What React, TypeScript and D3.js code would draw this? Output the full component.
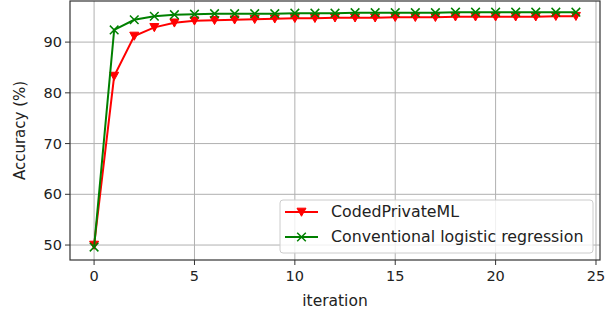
import React from "react";
import * as d3 from "d3";

// accuracy (%) per iteration
const iterations = d3.range(0, 25);
const codedPrivateML = [
  50.0, 83.3, 91.2, 92.9, 93.8, 94.2, 94.3, 94.4, 94.5, 94.6, 94.7, 94.7, 94.8,
  94.8, 94.8, 94.9, 94.9, 94.9, 95.0, 95.0, 95.0, 95.0, 95.0, 95.1, 95.1,
];
const conventionalLR = [
  49.6, 92.4, 94.4, 95.1, 95.4, 95.5, 95.6, 95.6, 95.6, 95.6, 95.7, 95.7, 95.7,
  95.8, 95.8, 95.8, 95.8, 95.8, 95.9, 95.9, 95.9, 95.9, 95.9, 95.9, 95.9,
];
const xTicks = [0, 5, 10, 15, 20, 25];
const yTicks = [50, 60, 70, 80, 90];
const seriesNames = ["CodedPrivateML", "Conventional logistic regression"];

const W = 611;
const H = 317;
const margin = { top: 1, right: 11, bottom: 57, left: 70 };
const FONT = "DejaVu Sans, sans-serif";

const triangle = (cx: number, cy: number, r: number) =>
  `M${cx - r},${cy - r * 0.85}L${cx + r},${cy - r * 0.85}L${cx},${cy + r * 0.95}Z`;
const cross = (cx: number, cy: number, r: number) =>
  `M${cx - r},${cy - r}L${cx + r},${cy + r}M${cx - r},${cy + r}L${cx + r},${cy - r}`;

export default function App() {
  const x = d3
    .scaleLinear()
    .domain([-1.2, 25.2])
    .range([margin.left, W - margin.right]);
  const y = d3
    .scaleLinear()
    .domain([47.05, 98.1])
    .range([H - margin.bottom, margin.top]);

  const red = "#ff0000";
  const green = "#008000";
  const line = d3
    .line<number>()
    .x((_, i) => x(iterations[i]))
    .y((d) => y(d));

  const x0 = margin.left;
  const x1 = W - margin.right;
  const y0 = H - margin.bottom;
  const y1 = margin.top;

  const lgX = 280;
  const lgY = 200;

  return (
    <svg
      width={W}
      height={H}
      style={{ position: "absolute", left: 0, top: 0, background: "#fff" }}
      fontFamily={FONT}
    >
      {/* grid */}
      {xTicks.map((t) => (
        <line key={"gx" + t} x1={x(t)} x2={x(t)} y1={y0} y2={y1} stroke="#b0b0b0" strokeWidth={1} />
      ))}
      {yTicks.map((t) => (
        <line key={"gy" + t} x1={x0} x2={x1} y1={y(t)} y2={y(t)} stroke="#b0b0b0" strokeWidth={1} />
      ))}

      {/* series */}
      <path d={line(codedPrivateML) || ""} fill="none" stroke={red} strokeWidth={2} />
      {codedPrivateML.map((v, i) => (
        <path key={"r" + i} d={triangle(x(iterations[i]), y(v), 4.5)} fill={red} stroke={red} strokeWidth={1} />
      ))}
      <path d={line(conventionalLR) || ""} fill="none" stroke={green} strokeWidth={2} />
      {conventionalLR.map((v, i) => (
        <path key={"g" + i} d={cross(x(iterations[i]), y(v), 4.3)} fill="none" stroke={green} strokeWidth={1.5} />
      ))}

      {/* spines */}
      <rect x={x0} y={y1} width={x1 - x0} height={y0 - y1} fill="none" stroke="#333" strokeWidth={1.2} />

      {/* x ticks */}
      {xTicks.map((t) => (
        <g key={"xt" + t}>
          <line x1={x(t)} x2={x(t)} y1={y0} y2={y0 + 5} stroke="#333" />
          <text x={x(t)} y={y0 + 21} textAnchor="middle" fontSize={14.5} fill="#222">
            {t}
          </text>
        </g>
      ))}
      {/* y ticks */}
      {yTicks.map((t) => (
        <g key={"yt" + t}>
          <line x1={x0 - 5} x2={x0} y1={y(t)} y2={y(t)} stroke="#333" />
          <text x={x0 - 8} y={y(t) + 5} textAnchor="end" fontSize={14.5} fill="#222">
            {t}
          </text>
        </g>
      ))}

      <text x={(x0 + x1) / 2} y={H - 11} textAnchor="middle" fontSize={15.5} fill="#222">
        iteration
      </text>
      <text
        transform={`translate(25,${(y0 + y1) / 2}) rotate(-90)`}
        textAnchor="middle"
        fontSize={15}
        fill="#222"
      >
        Accuracy (%)
      </text>

      {/* legend */}
      <rect x={lgX} y={lgY} width={313} height={53} rx={3} fill="#fff" fillOpacity={0.8} stroke="#ccc" />
      {seriesNames.map((name, i) => {
        const cy = lgY + 12 + i * 25;
        const c = i === 0 ? red : green;
        return (
          <g key={name}>
            <line x1={lgX + 5} x2={lgX + 38} y1={cy} y2={cy} stroke={c} strokeWidth={2} />
            {i === 0 ? (
              <path d={triangle(lgX + 21.5, cy, 4.5)} fill={c} stroke={c} />
            ) : (
              <path d={cross(lgX + 21.5, cy, 4.3)} fill="none" stroke={c} strokeWidth={1.5} />
            )}
            <text x={lgX + 51} y={cy + 5} fontSize={15.8} fill="#222">
              {name}
            </text>
          </g>
        );
      })}
    </svg>
  );
}
